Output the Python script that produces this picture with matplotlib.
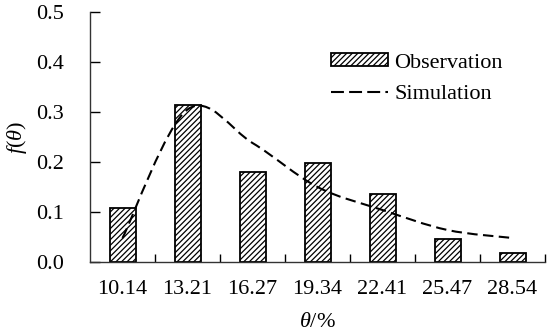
import matplotlib
matplotlib.use("Agg")
import matplotlib.pyplot as plt
from matplotlib.path import Path
from matplotlib.patches import PathPatch, Patch
from matplotlib.lines import Line2D
import numpy as np

categories = ["10.14", "13.21", "16.27", "19.34", "22.41", "25.47", "28.54"]
observation = [0.108, 0.314, 0.180, 0.198, 0.136, 0.046, 0.018]
simulation = [0.048, 0.305, 0.238, 0.150, 0.104, 0.064, 0.048]

plt.rcParams['font.family'] = 'Liberation Serif'
plt.rcParams['mathtext.fontset'] = 'custom'
plt.rcParams['mathtext.rm'] = 'Liberation Serif'
plt.rcParams['mathtext.it'] = 'Liberation Serif:italic'
plt.rcParams['hatch.linewidth'] = 0.9

fig = plt.figure(figsize=(5.5, 3.32), dpi=100)
ax = fig.add_axes([90/550, 70/332, 455/550, 250/332])

x = np.arange(len(categories))
ax.bar(x, observation, width=0.4, facecolor='white', edgecolor='black',
       linewidth=1.3, hatch='//////', zorder=2)

# smoothed line (Catmull-Rom style Bezier through the simulation points)
pts = np.column_stack([x, simulation]).astype(float)
n = len(pts)
verts = [tuple(pts[0])]
codes = [Path.MOVETO]
for i in range(n - 1):
    p_prev = pts[i - 1] if i > 0 else pts[i]
    p0 = pts[i]
    p1 = pts[i + 1]
    p_next = pts[i + 2] if i + 2 < n else pts[i + 1]
    c1 = p0 + (p1 - p_prev) / 6.0
    c2 = p1 - (p_next - p0) / 6.0
    verts += [tuple(c1), tuple(c2), tuple(p1)]
    codes += [Path.CURVE4] * 3
patch = PathPatch(Path(verts, codes), fill=False, edgecolor='black',
                  linewidth=1.5, linestyle=(0, (5, 2.6)), zorder=3)
ax.add_patch(patch)

ax.set_xlim(-0.5, len(categories) - 0.5)
ax.set_ylim(0, 0.5)
ax.set_yticks([0.0, 0.1, 0.2, 0.3, 0.4, 0.5])
ax.set_yticklabels(["0.0", "0.1", "0.2", "0.3", "0.4", "0.5"])
ax.set_xticks(x)
ax.set_xticklabels(categories)
ax.set_xticks(np.arange(0.5, len(categories), 1.0), minor=True)
ax.tick_params(axis='x', which='major', length=0, pad=13, labelsize=16)
ax.tick_params(axis='x', which='minor', direction='in', length=6, width=1)
ax.tick_params(axis='y', direction='in', length=7, width=1, pad=19, labelsize=16)

for s in ['top', 'right']:
    ax.spines[s].set_visible(False)
for s in ['left', 'bottom']:
    ax.spines[s].set_linewidth(1.0)
    ax.spines[s].set_color('#333333')

ax.set_ylabel(r'$f(\theta)$', fontsize=16, labelpad=5)
ax.set_xlabel(r'$\theta$/%', fontsize=16, labelpad=10)

handles = [Patch(facecolor='white', edgecolor='black', hatch='//////', linewidth=1.3),
           Line2D([0], [0], color='black', linewidth=1.5, linestyle=(0, (6.2, 2.5)))]
ax.legend(handles, ['Observation', 'Simulation'], loc='upper left',
          bbox_to_anchor=(0.51, 0.87), frameon=False, fontsize=16,
          handlelength=2.55, handleheight=0.5, handletextpad=0.3, labelspacing=0.55,
          borderaxespad=0)

fig.savefig('out.png', dpi=100)
